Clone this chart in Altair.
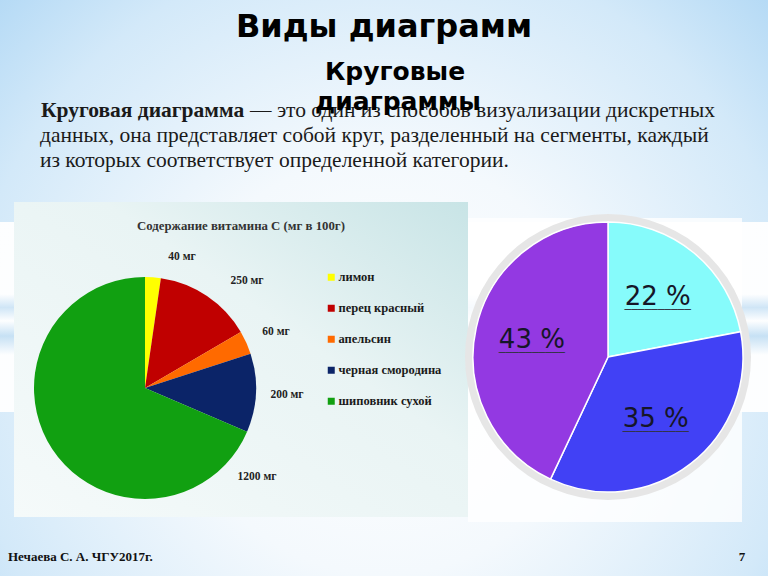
import altair as alt
import pandas as pd

W, H = 768, 576

# ---- data: left pie (vitamin C content) ----
products = ["лимон", "перец красный", "апельсин", "черная смородина", "шиповник сухой"]
vitamin_c = [40, 250, 60, 200, 1200]
value_labels = ["40 мг", "250 мг", "60 мг", "200 мг", "1200 мг"]
product_colors = ["#ffff00", "#c00000", "#ff6a00", "#0b2468", "#11a011"]

# ---- data: right pie (percent shares) ----
shares = [22, 35, 43]
share_labels = ["22 %", "35 %", "43 %"]
share_colors = ["#86fbfb", "#4141f5", "#9339e2"]

# ---- texts ----
title = "Виды диаграмм"
subtitle = ["Круговые", "диаграммы"]
para_bold = "Круговая диаграмма"
para_lines = [
    "— это один из способов визуализации дискретных",
    "данных, она представляет собой круг, разделенный на  сегменты, каждый",
    "из которых соответствует определенной категории.",
]
chart_title = "Содержание витамина  С (мг в 100г)"
footer = "Нечаева С. А. ЧГУ2017г."
page_no = "7"

one = alt.Data(values=[{"v": 1}])


def rect(x, x2, y, y2, fill, opacity=1.0):
    return alt.Chart(one).mark_rect(fill=fill, opacity=opacity).encode(
        x=alt.value(x), x2=alt.value(x2), y=alt.value(y), y2=alt.value(y2)
    )


def txt(s, x, y, size, font, weight="normal", align="left", color="#111111", baseline="alphabetic"):
    return alt.Chart(one).mark_text(
        font=font, fontSize=size, fontWeight=weight, align=align, baseline=baseline, color=color
    ).encode(x=alt.value(x), y=alt.value(y), text=alt.value(s))


SERIF = "Liberation Serif"
SANS = "DejaVu Sans"

# ---- background ----
bg = rect(0, W, 0, H, alt.RadialGradient(
    gradient="radial",
    stops=[alt.GradientStop(offset=0, color="#ffffff"),
           alt.GradientStop(offset=0.35, color="#f4f9fd"),
           alt.GradientStop(offset=0.7, color="#d3e9f9"),
           alt.GradientStop(offset=1, color="#a3d1f3")],
    x1=0.5, y1=0.6, r1=0, x2=0.5, y2=0.6, r2=0.78))

band = rect(0, W, 222, 412, alt.LinearGradient(
    gradient="linear",
    stops=[alt.GradientStop(offset=0, color="#ffffff"),
           alt.GradientStop(offset=0.38, color="#ffffff"),
           alt.GradientStop(offset=0.45, color="#cfe5f6"),
           alt.GradientStop(offset=0.52, color="#ffffff"),
           alt.GradientStop(offset=0.6, color="#c5e0f4"),
           alt.GradientStop(offset=0.7, color="#ffffff"),
           alt.GradientStop(offset=1, color="#ffffff")],
    x1=0, y1=0, x2=0, y2=1), opacity=0.95)

left_box = rect(14, 468, 202, 517, alt.LinearGradient(
    gradient="linear",
    stops=[alt.GradientStop(offset=0, color="#f5fafa"),
           alt.GradientStop(offset=0.6, color="#e9f4f4"),
           alt.GradientStop(offset=1, color="#c8e4e6")],
    x1=0, y1=1, x2=1, y2=0))

right_box = rect(468, 742, 218, 522, "#ffffff", opacity=0.8)

# ---- left pie ----
dfL = pd.DataFrame({"idx": list(range(len(products))), "product": products, "value": vitamin_c})
pieL = alt.Chart(dfL).mark_arc(radius=111).encode(
    theta=alt.Theta("value:Q", stack=True),
    order=alt.Order("idx:Q"),
    color=alt.Color("product:N",
                    scale=alt.Scale(domain=products, range=product_colors),
                    legend=alt.Legend(orient="none", legendX=325, legendY=271, title=None,
                                      symbolType="square", symbolSize=49, symbolStrokeWidth=0,
                                      labelFont=SERIF, labelFontWeight="bold", labelFontSize=12.5,
                                      labelColor="#1a1a1a", rowPadding=18, labelOffset=1,
                                      padding=0)),
    x=alt.value(145), y=alt.value(388),
)

label_pos = [(182, 257), (247, 281), (276, 332), (287, 395), (257, 477)]
labelsL = [txt(s, x, y, 11.5, SERIF, "bold", "center", "#222222", "middle")
           for s, (x, y) in zip(value_labels, label_pos)]

# ---- right pie ----
ring = alt.Chart(one).mark_arc(radius=143, color="#e6e6e6").encode(
    theta=alt.Theta("v:Q"), x=alt.value(608), y=alt.value(357))

dfR = pd.DataFrame({"idx": list(range(len(shares))), "share": shares, "label": share_labels})
baseR = alt.Chart(dfR).encode(
    theta=alt.Theta("share:Q", stack=True),
    order=alt.Order("idx:Q"),
    x=alt.value(608), y=alt.value(357),
)
pieR = baseR.mark_arc(radius=135, stroke="white", strokeWidth=1.5).encode(
    color=alt.Color("label:N", scale=alt.Scale(domain=share_labels, range=share_colors), legend=None))
txtR = baseR.mark_text(radius=78, font="DejaVu Sans", fontSize=26, color="#161628",
                       baseline="middle").encode(text="label:N")
ulR = baseR.mark_text(radius=78, dy=13, font="DejaVu Sans", fontSize=11, color="#333344",
                      baseline="middle").encode(text=alt.value("──────────"))

# ---- text ----
PS = 21.5
texts = [
    txt(para_bold, 41, 117, PS, SERIF, "bold", "left", "#1a1a1a"),
    txt(para_lines[0], 250, 117, PS, SERIF, "normal", "left", "#1a1a1a"),
    txt(para_lines[1], 40, 142, PS, SERIF, "normal", "left", "#1a1a1a"),
    txt(para_lines[2], 40, 167, PS, SERIF, "normal", "left", "#1a1a1a"),
    txt(title, 384, 37, 32, SANS, "bold", "center", "#000000"),
    txt(subtitle[0], 395, 80, 25, SANS, "bold", "center", "#000000"),
    txt(subtitle[1], 398, 110, 25, SANS, "bold", "center", "#000000"),
    txt(chart_title, 241, 230, 12.8, SERIF, "bold", "center", "#333333"),
    txt(footer, 8, 561, 13, SERIF, "bold", "left", "#111111"),
    txt(page_no, 742, 561, 13, SERIF, "bold", "center", "#111111"),
]

chart = alt.layer(
    bg, band, left_box, right_box, pieL, *labelsL, ring, pieR, txtR, ulR, *texts
).resolve_scale(
    color="independent", theta="independent"
).properties(
    width=W, height=H, padding=0, autosize=alt.AutoSizeParams(type="none")
).configure_view(stroke=None)

chart.save("out.html", embed_options={"renderer": "svg", "actions": False})
